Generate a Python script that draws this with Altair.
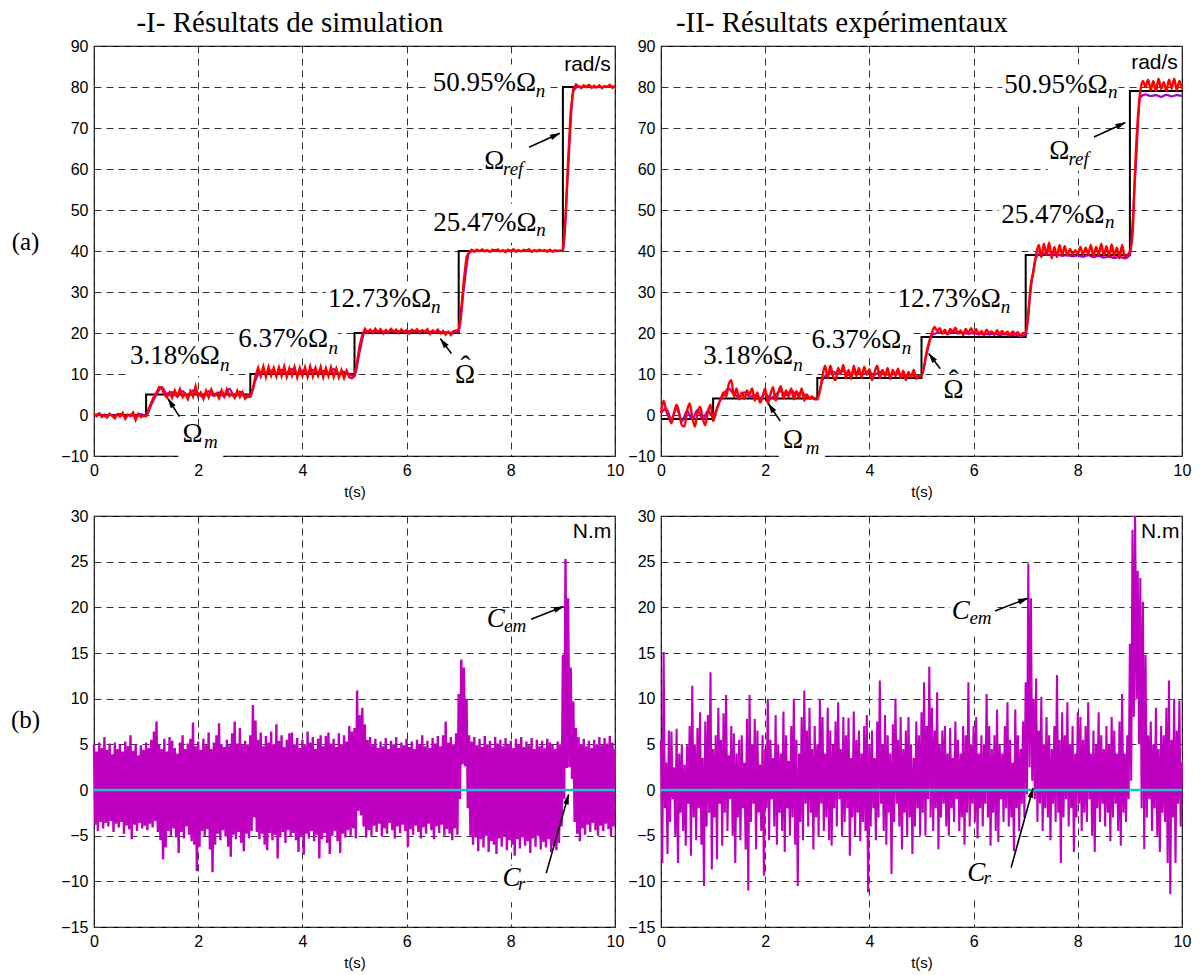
import math
import altair as alt
import pandas as pd

SERIF = "Liberation Serif"
SANS = "Liberation Sans"

# ---------------- data ----------------
REF_T = [0, 1, 3, 5, 7, 9, 10]
SIM_REF = [0, 5, 10, 20, 40, 80, 80]
EXP_REF = [-1, 4, 9, 19, 39, 79, 79]

# estimated speed (Omega hat), sampled every 0.05 s
SIM_HAT = [
    0.2, -0.3, 0.4, -0.5, 0.1, -0.6, 0.3, -0.2, -0.8, 0.2, -0.4, 0.5, -0.9, 0.1, -0.3, 0.6, -1.2, 0.3, -0.5, -0.2,
    -0.3, 1.5, 3.0, 4.5, 5.5, 6.8, 6.5, 5.0, 4.3, 5.5, 4.2, 6.0, 4.6, 6.3, 4.4, 5.2, 3.9, 5.8, 4.5, 7.0,
    4.6, 5.5, 4.0, 5.9, 4.3, 6.2, 4.8, 5.3, 4.1, 6.0, 4.5, 6.3, 4.6, 5.2, 4.2, 5.9, 4.4, 5.6, 4.0, 4.8,
    4.5, 6.5, 9.5, 11.5, 9.5, 11.8, 9.3, 11.7, 9.6, 11.5, 9.4, 11.6, 9.5, 11.8, 9.3, 11.4, 9.6, 11.7, 9.2, 11.5,
    9.5, 11.6, 9.3, 11.8, 9.4, 11.5, 9.6, 11.7, 9.2, 11.4, 9.5, 11.6, 9.3, 11.3, 9.2, 11.0, 9.0, 10.8, 9.2, 9.0,
    9.5, 13.0, 17.0, 19.5, 21.0, 20.2, 20.8, 20.0, 21.0, 20.2, 20.9, 19.9, 20.7, 20.1, 21.0, 20.3, 20.8, 20.0, 20.9, 20.2,
    20.7, 19.9, 20.8, 20.3, 20.9, 20.0, 20.7, 20.2, 20.9, 19.8, 20.6, 20.1, 20.8, 19.9, 20.5, 19.6, 20.3, 19.5, 20.4, 20.6,
    20.5, 26.0, 33.0, 38.5, 39.8, 40.3, 39.8, 40.3, 40.0, 40.4, 39.9, 40.2, 39.8, 40.3, 40.0, 40.4, 39.9, 40.2, 39.7, 40.3,
    40.0, 40.4, 39.8, 40.2, 39.9, 40.3, 40.0, 40.4, 39.8, 40.2, 39.9, 40.3, 40.0, 40.2, 39.8, 40.3, 39.9, 40.2, 40.0, 40.1,
    40.2, 48.0, 62.0, 74.0, 79.5, 80.6, 80.2, 79.7, 80.4, 80.0, 80.5, 79.8, 80.3, 79.9, 80.4, 79.7, 80.2, 80.0, 80.5, 79.8,
    80.3,
]
EXP_HAT = [
    0.5, 3.5, 1.0, -0.5, -2.0, 0.5, 2.5, 0.5, -2.5, -2.8, 1.0, 2.8, -0.5, -2.8, 0.5, 2.0, -0.8, -2.5, 0.8, 2.5,
    -1.5, 0.5, 2.5, 4.0, 5.5, 4.5, 7.5, 8.5, 4.5, 6.5, 3.8, 5.5, 4.0, 6.0, 5.0, 6.5, 3.5, 5.5, 3.0, 4.5,
    6.5, 2.8, 5.0, 6.8, 3.5, 5.5, 7.0, 4.0, 6.0, 4.5, 6.5, 3.8, 5.8, 4.2, 6.5, 3.5, 5.0, 4.0, 4.5, 3.8,
    3.8, 6.0, 9.5, 12.0, 9.0, 12.0, 9.5, 8.5, 11.5, 10.0, 12.2, 9.0, 11.0, 8.8, 12.0, 9.5, 11.5, 9.0, 11.8, 9.8,
    11.2, 8.5, 10.5, 12.0, 9.0, 11.0, 9.5, 11.5, 8.8, 11.0, 9.5, 11.3, 9.0, 10.8, 8.5, 10.5, 9.2, 11.0, 8.8, 9.5,
    9.5, 12.0, 15.5, 18.0, 20.0, 21.5, 20.5, 21.2, 19.8, 20.8, 19.6, 21.0, 20.2, 21.3, 19.9, 20.6, 19.5, 21.0, 20.0, 21.2,
    19.8, 20.9, 19.6, 20.5, 19.4, 20.8, 19.9, 20.4, 19.5, 20.7, 19.8, 20.5, 19.6, 20.3, 19.5, 20.4, 19.8, 20.2, 19.3, 20.0,
    20.0, 25.0, 32.0, 35.0, 39.0, 41.5, 38.5, 41.8, 39.0, 42.0, 38.2, 41.0, 38.5, 41.5, 39.0, 41.2, 38.8, 40.5, 39.2, 40.2,
    39.3, 41.0, 39.0, 40.8, 39.2, 41.5, 38.6, 41.0, 39.0, 41.8, 38.8, 41.2, 38.5, 41.6, 38.7, 40.8, 38.2, 41.5, 38.5, 39.0,
    40.0, 44.0, 60.0, 72.0, 79.0, 81.5, 80.0, 81.8, 79.2, 81.5, 79.0, 82.0, 79.5, 81.2, 79.0, 81.8, 79.6, 82.0, 79.2, 81.5,
    79.5,
]

# measured speed (Omega m), sampled every 0.1 s
SIM_M = [
    0.0, 0.2, -0.3, 0.1, -0.2, 0.3, -0.4, 0.1, -0.5, 0.2,
    -0.2, 2.5, 5.0, 6.8, 5.2, 5.6, 4.5, 5.8, 4.4, 6.0,
    5.2, 4.3, 5.8, 4.6, 5.5, 4.5, 6.4, 4.3, 5.7, 4.3,
    4.6, 8.5, 10.5, 10.2, 10.8, 10.0, 11.0, 10.2, 11.2, 10.0,
    10.8, 10.3, 11.0, 10.1, 10.7, 10.2, 11.2, 10.1, 10.5, 9.8,
    9.6, 15.5, 20.2, 20.4, 20.3, 20.5, 20.2, 20.6, 20.3, 20.5,
    20.2, 20.6, 20.3, 20.5, 20.1, 20.4, 20.2, 20.3, 20.0, 20.2,
    20.3, 31.0, 39.5, 40.1, 40.0, 40.1, 39.9, 40.2, 40.0, 40.1,
    39.9, 40.1, 40.0, 40.2, 39.9, 40.1, 40.0, 40.1, 39.9, 40.0,
    40.1, 60.0, 79.0, 80.1, 80.0, 80.2, 79.9, 80.1, 80.0, 80.1,
    80.0,
]
EXP_M = [
    0.5, 1.5, -1.0, 1.5, -1.5, 1.0, -1.0, 1.2, -1.0, 1.0,
    -0.5, 2.5, 5.0, 6.5, 5.0, 4.5, 5.5, 4.5, 4.8, 4.0,
    5.2, 4.0, 5.0, 5.8, 4.8, 6.0, 5.0, 5.5, 4.5, 4.2,
    4.0, 8.5, 10.0, 10.5, 10.0, 10.8, 9.8, 10.5, 10.2, 10.0,
    10.3, 9.8, 10.5, 10.0, 9.8, 10.3, 9.8, 9.5, 9.8, 9.4,
    9.5, 15.0, 19.5, 20.0, 20.2, 19.8, 20.3, 19.9, 20.1, 19.8,
    20.0, 19.7, 19.9, 19.6, 19.9, 19.5, 19.8, 19.4, 19.6, 19.2,
    19.5, 31.0, 38.5, 39.5, 39.2, 39.0, 39.3, 38.8, 39.0, 38.7,
    38.9, 38.6, 39.0, 38.5, 38.8, 38.4, 38.7, 38.3, 38.6, 38.2,
    39.0, 58.0, 77.5, 78.2, 77.8, 78.0, 77.6, 78.1, 77.7, 78.0,
    77.8,
]

# electromagnetic torque: upper and lower swings, every 0.05 s
SIM_CEM_HI = [
    5.0, 4.2, 5.2, 4.6, 5.8, 4.4, 5.1, 3.9, 5.2, 4.5, 5.0, 4.2, 5.3, 4.8, 6.0, 4.3, 5.0, 3.8, 4.9, 4.4,
    5.2, 4.6, 5.5, 6.4, 7.5, 5.0, 4.5, 5.6, 4.2, 5.8, 5.4, 4.6, 4.0, 5.2, 6.0, 4.5, 5.1, 5.6, 7.4, 4.8,
    5.3, 4.4, 5.6, 4.9, 6.3, 4.5, 5.2, 6.0, 7.3, 5.0, 4.7, 5.5, 4.9, 6.2, 7.5, 5.1, 6.8, 4.9, 5.4, 5.0,
    6.0, 9.3, 7.6, 5.5, 6.3, 4.8, 5.9, 5.2, 6.4, 5.0, 7.2, 5.4, 6.0, 4.7, 5.5, 6.2, 6.3, 5.0, 5.7, 4.6,
    5.5, 4.9, 6.4, 5.2, 5.8, 4.5, 5.6, 6.0, 4.8, 5.9, 6.3, 5.1, 5.6, 4.7, 6.2, 5.0, 6.0, 5.3, 7.0, 6.4,
    6.8, 10.9, 8.2, 9.0, 7.2, 5.5, 5.8, 4.9, 5.6, 4.6, 5.3, 4.8, 5.7, 4.5, 5.4, 5.0, 5.8, 4.6, 5.2, 4.9,
    5.6, 4.7, 5.3, 4.5, 5.5, 5.0, 6.0, 4.8, 5.4, 4.6, 5.7, 5.1, 5.9, 4.8, 6.0, 7.5, 5.2, 5.8, 5.0, 6.2,
    10.5, 14.3, 13.4, 10.0, 6.0, 5.3, 5.8, 4.9, 5.6, 4.7, 5.9, 5.0, 5.4, 4.6, 5.8, 5.1, 5.5, 4.8, 5.7, 5.0,
    5.4, 4.6, 5.6, 5.0, 5.8, 4.7, 5.3, 4.9, 5.7, 4.5, 5.5, 4.8, 5.4, 4.6, 5.6, 5.2, 5.0, 4.5, 5.3, 5.0,
    14.8, 25.3, 21.0, 13.4, 9.7, 6.8, 5.8, 5.0, 5.6, 4.8, 5.4, 4.6, 5.5, 5.0, 5.8, 4.9, 5.7, 5.1, 5.9, 5.2,
    4.5,
]
SIM_CEM_LO = [
    -3.8, -4.5, -3.5, -4.2, -3.6, -4.0, -3.4, -4.6, -3.7, -4.1, -3.5, -4.8, -3.9, -4.3, -5.4, -3.8, -4.5, -3.6, -4.2, -3.9,
    -4.4, -3.7, -4.1, -3.4, -4.6, -5.5, -7.6, -6.3, -4.5, -5.0, -4.2, -5.2, -6.9, -4.6, -5.3, -4.0, -4.9, -5.6, -6.0, -8.9,
    -6.2, -4.5, -5.0, -4.3, -6.5, -9.0, -6.0, -4.8, -5.5, -4.4, -5.1, -6.2, -7.3, -4.9, -5.4, -4.6, -5.8, -6.7, -4.8, -5.3,
    -4.5, -3.0, -4.6, -5.4, -4.8, -6.0, -6.6, -4.7, -5.5, -4.9, -7.5, -5.2, -4.6, -5.8, -4.4, -5.1, -4.7, -5.5, -6.8, -5.0,
    -7.1, -4.8, -5.3, -4.5, -5.6, -4.9, -7.5, -5.4, -4.7, -5.8, -7.0, -5.0, -4.5, -5.6, -6.9, -4.8, -5.2, -4.4, -5.0, -4.2,
    -5.3, -2.3, -2.8, -4.0, -5.2, -4.4, -5.0, -3.9, -4.6, -3.7, -5.1, -4.2, -4.8, -3.6, -4.4, -5.3, -4.0, -4.7, -3.8, -4.5,
    -6.2, -4.3, -4.9, -3.9, -4.6, -5.3, -4.1, -4.8, -3.7, -4.4, -5.4, -4.0, -4.7, -3.8, -5.0, -4.3, -4.8, -5.5, -4.2, -4.9,
    -1.0, 2.8, 2.6, -2.0, -5.0, -6.0, -5.2, -6.7, -5.4, -6.3, -5.0, -6.8, -5.6, -6.0, -7.0, -5.3, -6.2, -5.1, -6.6, -5.5,
    -6.0, -7.2, -5.4, -6.4, -5.2, -6.1, -5.6, -6.9, -5.3, -6.2, -5.0, -6.5, -5.7, -6.3, -5.4, -6.8, -6.1, -6.6, -5.8, -4.0,
    -1.0, 2.4, 2.5, 1.2, -3.5, -4.8, -5.6, -4.2, -4.9, -3.8, -4.6, -3.6, -4.4, -5.0, -3.9, -4.5, -3.7, -4.3, -5.1, -4.0,
    -3.6,
]
EXP_CEM_HI = [
    5.5, 15.1, 3.0, 6.5, 6.4, 2.5, 6.7, 4.0, 5.0, 2.8, 4.9, 7.0, 11.4, 5.0, 6.8, 8.5, 3.5, 7.5, 8.2, 12.9,
    4.5, 6.0, 9.0, 5.5, 8.4, 10.4, 3.8, 7.0, 6.2, 4.0, 5.5, 6.0, 3.0, 7.8, 10.4, 5.0, 7.8, 6.5, 2.8, 6.0,
    4.5, 10.0, 5.5, 3.5, 8.2, 5.0, 4.0, 8.6, 6.0, 3.2, 7.0, 10.0, 5.5, 4.0, 8.0, 10.9, 6.5, 9.0, 4.5, 7.0,
    5.0, 10.0, 8.0, 4.0, 9.0, 6.5, 5.0, 7.5, 9.6, 4.5, 8.0, 6.0, 7.9, 3.5, 8.6, 5.5, 6.5, 4.0, 7.0, 8.2,
    5.0, 6.5, 3.5, 7.5, 12.0, 5.0, 8.2, 6.0, 4.0, 7.2, 10.0, 5.5, 8.0, 4.5, 6.5, 8.0, 5.0, 3.5, 7.5, 6.0,
    8.5, 11.8, 7.0, 13.5, 9.0, 6.5, 10.7, 5.0, 6.5, 7.0, 4.0, 6.8, 3.5, 7.5, 5.5, 4.0, 7.0, 6.0, 11.8, 5.0,
    7.0, 8.0, 4.0, 6.0, 5.0, 10.5, 7.0, 4.5, 6.0, 8.8, 5.0, 4.0, 7.0, 9.6, 5.5, 3.0, 8.8, 6.0, 4.5, 7.5,
    11.8, 24.8, 21.0, 10.0, 12.2, 6.5, 10.2, 5.0, 8.0, 6.0, 4.5, 7.0, 12.6, 5.5, 8.5, 6.0, 9.6, 5.0, 7.0, 4.0,
    8.5, 8.0, 5.5, 7.0, 9.6, 4.0, 6.5, 5.0, 8.5, 6.0, 4.5, 7.0, 5.0, 8.0, 6.5, 4.0, 7.5, 10.5, 4.0, 6.0,
    16.0, 28.5, 30.0, 24.0, 23.2, 20.6, 14.8, 6.0, 7.5, 5.0, 9.0, 4.5, 7.0, 6.0, 9.0, 12.0, 5.5, 10.0, 6.5, 9.8,
    3.0,
]
EXP_CEM_LO = [
    -8.0, -2.0, -7.0, -3.5, -1.0, -5.0, -8.0, -2.5, -4.5, -6.1, -1.5, -7.2, -3.0, -5.5, -2.0, -6.0, -10.5, -4.0, -2.5, -8.7,
    -3.0, -7.6, -1.5, -6.1, -2.5, -4.5, -1.0, -5.0, -8.0, -3.0, -5.5, -2.0, -6.5, -11.0, -3.5, -1.5, -6.5, -2.5, -4.5, -9.4,
    -2.0, -5.5, -1.0, -4.0, -6.0, -2.5, -4.5, -6.8, -2.0, -5.0, -3.0, -6.0, -10.5, -3.5, -5.5, -1.5, -4.0, -2.5, -6.5, -3.0,
    -5.0, -1.5, -4.5, -3.0, -5.5, -6.1, -2.0, -4.0, -1.0, -5.0, -3.5, -2.0, -7.2, -3.0, -5.0, -2.5, -5.6, -3.5, -4.5, -11.2,
    -4.0, -2.0, -5.5, -3.0, -1.5, -4.5, -6.0, -2.5, -9.2, -3.5, -1.5, -4.0, -6.5, -2.5, -5.0, -3.0, -7.0, -4.0, -2.0, -5.0,
    -2.5, -5.0, -1.0, -3.0, -4.5, -2.0, -6.5, -3.0, -1.5, -4.0, -5.0, -2.0, -3.5, -1.0, -4.5, -3.0, -6.0, -2.5, -4.0, -1.5,
    -3.5, -5.3, -2.0, -4.0, -1.5, -3.0, -6.1, -2.5, -4.5, -5.7, -1.0, -3.5, -2.0, -4.0, -3.0, -6.7, -2.0, -4.5, -1.5, -3.0,
    -0.5, 2.5, 1.0, -1.0, -3.5, -1.5, -4.5, -2.0, -3.0, -5.5, -1.5, -3.5, -2.5, -8.0, -3.0, -1.0, -4.0, -2.0, -6.8, -3.0,
    -1.5, -4.5, -2.5, -3.5, -1.0, -5.0, -6.8, -2.0, -3.5, -1.5, -4.0, -2.5, -5.6, -3.0, -1.5, -4.5, -6.1, -2.5, -3.5, -1.0,
    1.0, 8.0, 10.0, 5.0, -2.0, -6.5, -3.0, -1.0, -4.5, -2.0, -5.0, -6.8, -2.5, -3.5, -8.0, -11.4, -3.0, -8.0, -1.5, -4.0,
    -3.5,
]

# load torque C_r
CR_T = [0, 10]
CR_V = [0, 0]

# ---------------- annotations (text, white backgrounds, arrows) ----------------
TL_TEXT = [  # t, v, text, kind
    (3.76, 93.45, "-I- Résultats de simulation", "title"),
    (6.50, 79.0, "50.95%Ω", "main"), (8.48, 77.6, "n", "sub"),
    (6.51, 45.0, "25.47%Ω", "main"), (8.49, 43.6, "n", "sub"),
    (4.49, 26.3, "12.73%Ω", "main"), (6.47, 24.9, "n", "sub"),
    (2.77, 16.6, "6.37%Ω", "main"), (4.50, 15.0, "n", "sub"),
    (0.69, 12.4, "3.18%Ω", "main"), (2.42, 10.8, "n", "sub"),
    (7.49, 60.0, "Ω", "main"), (7.85, 58.6, "ref", "sub"),
    (6.93, 7.7, "Ω", "main"), (7.13, 9.6, "ˆ", "hat"),
    (1.70, -6.5, "Ω", "main"), (2.11, -8.1, "m", "sub"),
    (9.92, 83.9, "rad/s", "sans"),
]
TL_BOX = [(6.45, 8.70, 76, 85.5), (6.45, 8.70, 42, 51.5), (4.45, 6.65, 23.5, 32.5),
          (2.72, 4.68, 14, 22.5), (0.65, 2.60, 9.5, 18), (7.45, 8.30, 57.5, 65),
          (6.88, 7.35, 5.5, 12.8), (1.62, 2.48, -11, -2.8)]
TL_ARROW = [(8.35, 65.3, 8.94, 68.7), (6.86, 15.0, 6.65, 18.6), (1.64, -0.4, 1.42, 4.0)]

TR_TEXT = [
    (3.47, 93.45, "-II- Résultats expérimentaux", "title"),
    (6.59, 78.6, "50.95%Ω", "main"), (8.58, 77.2, "n", "sub"),
    (6.53, 46.9, "25.47%Ω", "main"), (8.52, 45.5, "n", "sub"),
    (4.54, 26.3, "12.73%Ω", "main"), (6.52, 24.9, "n", "sub"),
    (2.89, 16.4, "6.37%Ω", "main"), (4.62, 15.0, "n", "sub"),
    (0.81, 12.4, "3.18%Ω", "main"), (2.54, 10.8, "n", "sub"),
    (7.45, 62.4, "Ω", "main"), (7.82, 61.0, "ref", "sub"),
    (5.42, 4.2, "Ω", "main"), (5.62, 6.1, "ˆ", "hat"),
    (2.34, -8.0, "Ω", "main"), (2.78, -9.4, "m", "sub"),
    (9.92, 84.3, "rad/s", "sans"),
]
TR_BOX = [(6.55, 8.78, 76, 85.5), (6.48, 8.72, 44, 53.5), (4.50, 6.72, 23.5, 32.5),
          (2.85, 4.80, 14, 22.5), (0.78, 2.72, 9.5, 18), (7.42, 8.27, 59.5, 67),
          (5.36, 5.82, 1.5, 9.5), (2.26, 3.15, -11, -3.5)]
TR_ARROW = [(8.31, 67.8, 8.91, 71.3), (5.36, 11.3, 5.14, 15.0), (2.29, -1.5, 2.06, 2.8)]

BL_TEXT = [
    (7.54, 17.8, "C", "ital"), (7.87, 17.3, "em", "sub"),
    (7.84, -10.5, "C", "ital"), (8.14, -10.9, "r", "sub"),
    (9.93, 27.6, "N.m", "sans"),
]
BL_BOX = [(7.80, 8.30, -12.3, -8.3)]
BL_ARROW = [(8.39, 18.7, 9.01, 20.1), (8.68, -9.1, 9.11, -0.5)]

BR_TEXT = [
    (5.58, 18.7, "C", "ital"), (5.92, 18.2, "em", "sub"),
    (5.88, -10.0, "C", "ital"), (6.19, -10.3, "r", "sub"),
    (9.95, 27.6, "N.m", "sans"),
]
BR_BOX = [(5.55, 6.45, 16.8, 21.2), (5.85, 6.32, -12.0, -8.3)]
BR_ARROW = [(6.41, 19.6, 7.04, 21.0), (6.72, -8.5, 7.14, 0.2)]

# ---------------- styling ----------------
W = 521
H_TOP = 410
H_BOT = 411
PX_T = W / 10.0
RED = "#FF0000"
PURPLE = "#A000D0"
MAGENTA = "#C000C0"
CYAN = "#1FC4C4"

XS = alt.Scale(domain=[0, 10], nice=False, zero=False)
XAXIS = alt.Axis(values=[0, 2, 4, 6, 8, 10], title="t(s)", grid=True, labelFlush=False,
                 format="d", titlePadding=6)


def series_df(values, step):
    return pd.DataFrame({"t": [round(i * step, 4) for i in range(len(values))], "v": values})


def torque_df(hi, lo):
    rows = []
    for i, (h, l) in enumerate(zip(hi, lo)):
        t = i * 0.05
        rows.append({"t": round(t, 4), "v": h})
        if t + 0.025 <= 10.0001:
            rows.append({"t": round(t + 0.025, 4), "v": l})
    return pd.DataFrame(rows)


def annotation_layers(texts, boxes, arrows, yenc, pxv):
    X = lambda f: alt.X(f"{f}:Q", scale=XS, axis=XAXIS)
    below, above = [], []
    bdf = pd.DataFrame(boxes, columns=["t", "t2", "v", "v2"])
    below.append(alt.Chart(bdf).mark_rect(color="white", opacity=1).encode(
        x=X("t"), x2="t2:Q", y=yenc("v"), y2="v2:Q"))
    adf = pd.DataFrame(arrows, columns=["t", "v", "t2", "v2"])
    above.append(alt.Chart(adf).mark_rule(color="black", strokeWidth=1.6).encode(
        x=X("t"), x2="t2:Q", y=yenc("v"), y2="v2:Q"))
    heads = []
    for x1, y1, x2, y2 in arrows:
        dxp = (x2 - x1) * PX_T
        dyp = -(y2 - y1) * pxv
        L = math.hypot(dxp, dyp)
        ux, uy = dxp / L, dyp / L
        ang = math.degrees(math.atan2(dxp, -dyp)) % 360
        heads.append({"t": x2 - 4.5 * ux / PX_T, "v": y2 + 4.5 * uy / pxv, "a": ang})
    hdf = pd.DataFrame(heads)
    above.append(alt.Chart(hdf).mark_point(shape="M0,-1L0.55,1L-0.55,1Z", filled=True, color="black",
                                           opacity=1, size=110, strokeWidth=0).encode(
        x=X("t"), y=yenc("v"), angle=alt.Angle("a:Q", scale=None)))
    tdf = pd.DataFrame(texts, columns=["t", "v", "text", "kind"])
    styles = {
        "title": dict(font=SERIF, fontSize=29, fontStyle="normal", align="center"),
        "main": dict(font=SERIF, fontSize=27, fontStyle="normal", align="left"),
        "hat": dict(font=SERIF, fontSize=30, fontStyle="normal", align="center"),
        "sub": dict(font=SERIF, fontSize=19, fontStyle="italic", align="left"),
        "ital": dict(font=SERIF, fontSize=27, fontStyle="italic", align="left"),
        "sans": dict(font=SANS, fontSize=21, fontStyle="normal", align="right"),
    }
    for kind, st in styles.items():
        sub = tdf[tdf["kind"] == kind]
        if len(sub) == 0:
            continue
        above.append(alt.Chart(sub).mark_text(baseline="alphabetic", color="black", **st).encode(
            x=X("t"), y=yenc("v"), text="text:N"))
    return below, above


def speed_panel(hat, meas, ref, texts, boxes, arrows, ytitle, interp):
    ys = alt.Scale(domain=[-10, 90], nice=False, zero=False)
    yaxis = alt.Axis(values=list(range(-10, 91, 10)), grid=True, title=ytitle, titleAngle=0,
                     titleX=-69, titleY=195, titleFont=SERIF, titleFontSize=25,
                     titleFontWeight="normal", titleAlign="center", titleBaseline="middle",
                     labelFlush=False)
    Y = lambda f: alt.Y(f"{f}:Q", scale=ys, axis=yaxis)
    X = lambda f: alt.X(f"{f}:Q", scale=XS, axis=XAXIS)
    below, above = annotation_layers(texts, boxes, arrows, Y, H_TOP / 100.0)
    ref_df = pd.DataFrame({"t": REF_T, "v": ref})
    ref_line = alt.Chart(ref_df).mark_line(color="black", strokeWidth=2, interpolate="step-after").encode(
        x=X("t"), y=Y("v"))
    m_line = alt.Chart(series_df(meas, 0.1)).mark_line(color=PURPLE, strokeWidth=2.2,
                                                       interpolate="monotone").encode(x=X("t"), y=Y("v"))
    h_line = alt.Chart(series_df(hat, 0.05)).mark_line(color=RED, strokeWidth=2.4,
                                                       interpolate=interp).encode(x=X("t"), y=Y("v"))
    return alt.layer(*below, ref_line, m_line, h_line, *above).properties(width=W, height=H_TOP)


def torque_panel(hi, lo, texts, boxes, arrows, ytitle, lw):
    ys = alt.Scale(domain=[-15, 30], nice=False, zero=False)
    yaxis = alt.Axis(values=list(range(-15, 31, 5)), grid=True, title=ytitle, titleAngle=0,
                     titleX=-69, titleY=203, titleFont=SERIF, titleFontSize=25,
                     titleFontWeight="normal", titleAlign="center", titleBaseline="middle",
                     labelFlush=False)
    Y = lambda f: alt.Y(f"{f}:Q", scale=ys, axis=yaxis)
    X = lambda f: alt.X(f"{f}:Q", scale=XS, axis=XAXIS)
    below, above = annotation_layers(texts, boxes, arrows, Y, H_BOT / 45.0)
    cem = alt.Chart(torque_df(hi, lo)).mark_line(color=MAGENTA, strokeWidth=lw).encode(
        x=X("t"), y=Y("v"))
    cr = alt.Chart(pd.DataFrame({"t": CR_T, "v": CR_V})).mark_line(color=CYAN, strokeWidth=2.6).encode(
        x=X("t"), y=Y("v"))
    return alt.layer(*below, cem, cr, *above).properties(width=W, height=H_BOT)


tl = speed_panel(SIM_HAT, SIM_M, SIM_REF, TL_TEXT, TL_BOX, TL_ARROW, "(a)", "linear")
tr = speed_panel(EXP_HAT, EXP_M, EXP_REF, TR_TEXT, TR_BOX, TR_ARROW, "", "monotone")
bl = torque_panel(SIM_CEM_HI, SIM_CEM_LO, BL_TEXT, BL_BOX, BL_ARROW, "(b)", 2.4)
br = torque_panel(EXP_CEM_HI, EXP_CEM_LO, BR_TEXT, BR_BOX, BR_ARROW, "", 2.1)

chart = alt.concat(tl, tr, bl, br, columns=2, spacing={"row": 60, "column": 46}, bounds="flush").properties(
    padding={"left": 1, "top": 0, "right": 0, "bottom": 0}, background="white"
).configure_view(
    stroke="black", strokeWidth=1.2
).configure_axis(
    labelFont=SANS, labelFontSize=16, labelColor="black", labelPadding=6,
    titleFont=SANS, titleFontSize=15, titleFontWeight="normal", titleColor="black",
    gridColor="#333333", gridDash=[7, 5], gridWidth=1, gridOpacity=1,
    domain=False, ticks=False
)

chart.save("out.html", embed_options={"renderer": "svg", "actions": False})
